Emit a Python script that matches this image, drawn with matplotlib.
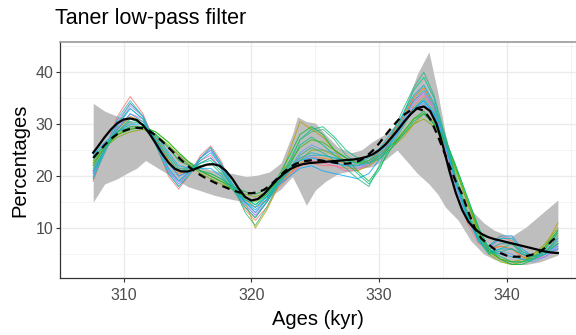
import matplotlib
matplotlib.use("Agg")
import matplotlib.pyplot as plt
import numpy as np

plt.rcParams['font.family'] = ['Liberation Sans', 'DejaVu Sans']

# sample ages shared by the ensemble members
ages = [307.6, 308.5, 309.5, 310.5, 311.5, 312.5, 313.5, 314.3, 315.2, 316.0,
        316.8, 317.6, 318.5, 319.5, 320.3, 321.2, 322.0, 323.0, 323.8, 324.7,
        325.6, 326.5, 327.4, 328.3, 329.2, 330.1, 331.0, 331.9, 332.7, 333.5,
        334.3, 335.2, 336.0, 336.9, 337.8, 338.6, 339.5, 340.4, 341.2, 342.1,
        343.0, 344.0]

members = [
    [19, 25, 31.5, 35.3, 32, 26, 20, 17.5, 20.5, 24, 25.8, 23, 18, 13.5, 11.5, 14, 17.5, 20, 22, 22.5, 22,
     22, 21.5, 21.5, 22, 24, 27, 30, 33.5, 35.5, 33, 25, 17, 11, 7, 6.5, 8.5, 7.5, 5, 4, 5.5, 8],
    [20, 25.5, 30.5, 34, 31.5, 26.5, 21, 18.5, 21, 23.5, 25, 22.5, 18.5, 14.5, 12.5, 15, 18, 21, 23.5, 24, 23,
     22.5, 22, 22, 22.5, 24.5, 27.5, 31, 35, 37.5, 34, 26, 18, 12, 7.5, 6, 8, 8.5, 6, 4.5, 5, 6.5],
    [21, 25, 29, 32, 31, 27, 22.5, 20, 21, 23, 24, 21.5, 18, 15, 13, 15.5, 18, 20.5, 22, 23, 22.5,
     22, 21, 21, 22.5, 25, 28, 31.5, 34.5, 36, 33, 26, 18.5, 12.5, 8, 6, 6.5, 6, 4.5, 4, 4.5, 6],
    [20.5, 24.5, 29.5, 33, 31, 26.5, 21.5, 19, 21, 23.5, 25, 22, 18.5, 15.5, 14, 16, 18.5, 21.5, 24.5, 26, 25,
     24.5, 23.5, 22, 22, 24, 27, 30, 33, 34, 31.5, 25.5, 18, 12, 7.5, 5.5, 5.5, 5, 4, 3.5, 4.5, 6.5],
    [21, 25, 29, 31.5, 30.5, 27.5, 23, 20.5, 21, 22.5, 23.5, 21.5, 18, 15.5, 14, 15.5, 18, 20.5, 22.5, 23.5, 23.5,
     23, 22.5, 22, 23, 25, 28, 31.5, 35, 37, 33.5, 26.5, 19, 12.5, 8, 6, 6.5, 6, 4.5, 4, 5, 7],
    [20, 24.5, 29.5, 33.5, 31.5, 26.5, 21, 18.5, 21, 23.5, 25, 22, 18, 14.5, 12.5, 15, 18, 21, 23, 23.5, 23,
     22.5, 22, 21.5, 22, 24, 27, 30.5, 34, 36, 33, 26, 18.5, 12, 7.5, 6, 7, 7, 5, 4, 4.5, 6],
    [22.5, 25.5, 28, 29.5, 29.5, 28, 25.5, 23, 22, 21, 20.5, 19.5, 18, 15, 10, 13.5, 17.5, 25, 30.5, 29, 27.5,
     25, 22, 21, 22, 23.5, 25.5, 27.5, 30, 32, 30.5, 27, 21.5, 15, 9, 5.5, 4, 3.5, 4, 5, 6.5, 11],
    [24, 26.5, 28.5, 30, 30, 28, 24.5, 22, 21.5, 21.5, 21.5, 20, 17.5, 15, 14, 16, 18.5, 21, 23, 23.5, 23,
     22.5, 22, 22, 23, 25, 27.5, 30.5, 33, 34.5, 32, 26, 19, 12.5, 8, 5.5, 5, 4.5, 4, 4, 5, 6],
    [22, 25.5, 27.5, 28.5, 29, 28, 26, 24, 22, 20.5, 19.5, 18.5, 17.5, 16.5, 16, 17, 18.5, 21, 23, 25, 25,
     24, 23, 22.5, 23, 24.5, 26, 28, 30, 31, 29.5, 26, 21, 15, 9, 5, 3.5, 3, 3.5, 5, 7, 10],
    [21, 25, 29, 32, 30.5, 27, 22.5, 20, 21, 22.5, 23.5, 21.5, 18, 15, 13.5, 15.5, 18, 20, 21.5, 22, 21,
     20.5, 20, 19.5, 20.5, 23.5, 26.5, 30, 33, 34.5, 32, 26, 19, 12.5, 7.5, 5.5, 6, 6, 5, 4.5, 5.5, 8],
    [21.5, 25, 28.5, 31, 30, 27, 23.5, 21, 21.5, 22.5, 23, 21, 18, 15.5, 14.5, 16, 18.5, 22, 26, 27.5, 26,
     24, 22.5, 20.5, 18.5, 21.5, 27, 32, 36.5, 39, 35, 27, 19, 12.5, 7.5, 5, 6, 7, 5.5, 4.5, 5.5, 7.5],
    [23, 26, 28, 29, 29.5, 28.5, 26.5, 24.5, 22.5, 21, 20, 19, 18, 17, 16.5, 17.5, 19.5, 24, 28, 29.5, 28,
     25, 23.5, 21, 19, 22, 25.5, 28.5, 31, 32.5, 30, 27, 22, 16, 10, 6, 4, 3, 3, 4, 6, 9],
    [20.5, 25, 30, 33, 31, 26.5, 21.5, 19, 21, 23, 24.5, 22, 18.5, 15, 13, 15.5, 18.5, 21.5, 23.5, 24.5, 24,
     23.5, 23, 22.5, 23.5, 25.5, 28.5, 32, 35.5, 37.5, 34, 27, 19, 12.5, 8, 6.5, 8, 8, 5.5, 4.5, 5, 7],
    [22.5, 25.5, 28, 29, 29.5, 28.5, 26.5, 24.5, 22.5, 21, 20, 19, 17.5, 16, 15, 16.5, 19, 22.5, 25.5, 27, 26.5,
     25, 23.5, 22.5, 22.5, 24, 26, 28.5, 31, 32, 30, 26.5, 21.5, 15.5, 9.5, 5.5, 4, 3.5, 3.5, 4.5, 6.5, 9.5],
    [23.5, 26, 28.5, 29.5, 29.5, 28, 25.5, 23, 22, 21, 20.5, 19.5, 18, 16, 14.5, 16.5, 19, 23, 27, 29, 29.5,
     27.5, 25, 23.5, 22.5, 23.5, 25.5, 28, 30.5, 32, 30, 27, 22, 16, 10, 6, 4.5, 3.5, 3.5, 4, 6, 9.5],
    [19.5, 24.5, 30, 34, 31.5, 26, 20.5, 18, 20.5, 23.5, 25.5, 22.5, 18.5, 13, 10.5, 14, 18, 22.5, 27, 28.5, 29,
     27, 24, 22.5, 23, 24, 26, 29.5, 33, 35, 32.5, 27.5, 20, 13.5, 8.5, 6, 7, 7, 5, 4, 5, 8.5],
    [19.5, 25, 31, 34.5, 31.5, 26, 20.5, 18, 20.5, 23.5, 25.5, 22.5, 18, 14, 12, 15, 18, 21, 23, 24, 24,
     23.5, 22.5, 22, 22.5, 24.5, 27.5, 31, 34.5, 36.5, 33.5, 26.5, 18.5, 12, 7.5, 6.5, 8.5, 8.5, 6, 4.5, 5, 7],
    [22, 25.5, 28.5, 30.5, 30, 27.5, 24, 21.5, 21.5, 22, 22.5, 20.5, 17.5, 14, 12, 15, 18.5, 21.5, 24, 25.5, 24.5,
     23, 21.5, 19.5, 18, 22.5, 28, 33, 37, 40, 35.5, 27.5, 19.5, 13, 8, 5, 5.5, 6, 5, 4.5, 5.5, 7],
]
member_colors = ['#F8766D', '#C77CFF', '#FF64B0', '#619CFF', '#E58700', '#A58AFF',
                 '#B79F00', '#00B4F0', '#7CAE00', '#00A9FF', '#00C08B', '#00BA38',
                 '#00BFC4', '#39B600', '#00BF7D', '#35B779', '#1FB5C8', '#2BB07F']

# envelope of the reference record
rib_age = [307.6, 308.5, 309.5, 310.2, 311.0, 311.7, 312.5, 313.7, 315.0, 316.0,
           317.1, 318.5, 319.6, 320.5, 321.4, 322.3, 323.2, 323.6, 324.3, 325.0,
           325.8, 326.8, 327.8, 328.6, 329.4, 330.4, 331.4, 332.3, 333.0, 333.9,
           334.6, 335.2, 336.2, 337.2, 338.2, 339.0, 340.3, 341.5, 342.6, 344.0]
rib_lo = [15, 18.5, 19.5, 20.5, 21.5, 23, 21.8, 20, 18, 17.2,
          16.3, 15.5, 15, 15.5, 16, 17.5, 19.9, 18, 14.4, 17.3,
          19, 20.5, 21, 21.5, 21.8, 23, 25, 22.5, 20.5, 18.5,
          16.5, 14, 11.5, 7.5, 5, 4, 3, 3, 3.5, 4.8]
rib_hi = [34, 32.5, 31.5, 31, 30, 29.5, 28, 25.5, 23, 21.8,
          21, 20.5, 19.9, 20.2, 20.8, 22.5, 28, 31.4, 30.5, 30.2,
          28, 25.5, 24.5, 25, 26.5, 28, 30, 35, 39.7, 43.9,
          36, 28, 19, 13.5, 11, 9.6, 8.3, 10.2, 12.5, 15.4]

# filtered curves
fit_age = [307.6] + [308.0 + 0.5 * i for i in range(73)]
fit_solid = [24.5, 25.8, 27.5, 29.0, 30.2, 30.9, 31.1, 30.8, 29.8, 28.2,
             26.3, 24.3, 22.6, 21.4, 20.9, 20.9, 21.3, 21.8, 22.2, 22.3,
             22.0, 21.0, 19.5, 17.6, 16.0, 15.3, 15.6, 16.6, 18.0, 19.3,
             20.4, 21.3, 21.9, 22.3, 22.5, 22.6, 22.7, 22.8, 22.9, 23.0,
             23.1, 23.2, 23.4, 23.7, 24.2, 25.0, 26.1, 27.5, 29.0, 30.6,
             32.0, 33.1, 33.4, 32.5, 30.0, 25.8, 21.0, 16.8, 13.5, 11.2,
             9.8, 8.9, 8.3, 7.9, 7.6, 7.3, 7.0, 6.7, 6.4, 6.1,
             5.8, 5.5, 5.3, 5.2]
fit_dashed = [23.5, 24.6, 26.0, 27.2, 28.1, 28.7, 29.1, 29.3, 29.2, 28.7,
              27.8, 26.7, 25.5, 24.3, 23.1, 22.0, 21.0, 20.2, 19.5, 18.9,
              18.3, 17.8, 17.3, 16.9, 16.7, 16.7, 16.9, 17.4, 18.3, 19.5,
              20.7, 21.7, 22.4, 22.8, 23.0, 23.1, 23.0, 22.8, 22.6, 22.4,
              22.4, 22.6, 23.0, 23.8, 24.9, 26.3, 27.9, 29.4, 30.8, 31.9,
              32.7, 33.0, 32.6, 31.0, 28.3, 25.2, 22.0, 19.0, 16.5, 13.0,
              10.0, 8.0, 7.0, 6.0, 5.2, 4.7, 4.5, 4.5, 4.6, 4.9,
              5.3, 6.2, 7.5, 8.5]

fig = plt.figure(figsize=(5.76, 3.35), dpi=100)
ax = fig.add_axes([60 / 576, 57 / 335, 516 / 576, 236 / 335])

ax.fill_between(rib_age, rib_lo, rib_hi, color='#BEBEBE', lw=0, zorder=2)
for vals, col in zip(members, member_colors):
    ax.plot(ages, vals, color=col, lw=0.7, alpha=0.8, zorder=3)
ax.plot(fit_age, fit_dashed, color='black', lw=1.6, ls=(0, (3.5, 2.5)), zorder=4)
ax.plot(fit_age, fit_solid, color='black', lw=1.6, zorder=5)

ax.set_xlim(305.94, 345.42)
ax.set_ylim(0.4, 45.8)
ax.set_xticks([310, 320, 330, 340])
ax.set_yticks([10, 20, 30, 40])
ax.set_xticks([305, 315, 325, 335, 345], minor=True)
ax.set_yticks([5, 15, 25, 35, 45], minor=True)
ax.grid(which='major', color='#EBEBEB', lw=1.0, zorder=0)
ax.grid(which='minor', color='#F2F2F2', lw=0.6, zorder=0)
ax.set_axisbelow(True)
ax.tick_params(which='minor', length=0)
ax.tick_params(which='major', length=3, width=0.8, color='#333333',
               labelcolor='#4D4D4D', labelsize=11.5)
ax.tick_params(axis='x', which='major', pad=4)
ax.tick_params(axis='y', which='major', pad=2)

for side in ['left', 'bottom']:
    ax.spines[side].set_color('#333333')
    ax.spines[side].set_linewidth(0.9)
ax.spines['top'].set_color('#999999')
ax.spines['top'].set_linewidth(1.2)
ax.spines['right'].set_visible(False)

ax.set_xlabel('Ages (kyr)', fontsize=14.5, labelpad=5)
ax.set_ylabel('Percentages', fontsize=14.5, labelpad=4)
fig.text(55 / 576, 1 - 24 / 335, 'Taner low-pass filter', fontsize=15.5)

fig.savefig('out.png', dpi=100)
